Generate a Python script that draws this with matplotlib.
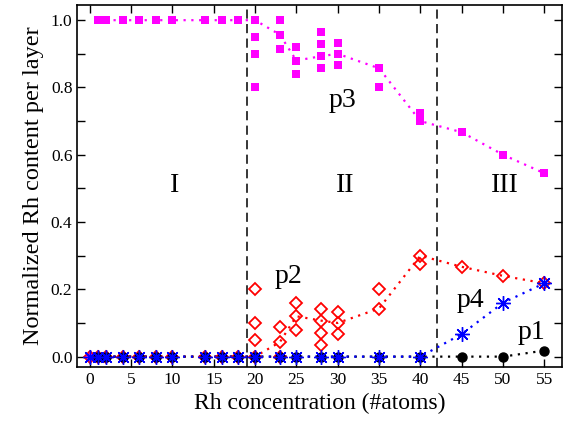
import matplotlib
matplotlib.use("Agg")
import matplotlib.pyplot as plt
from matplotlib.ticker import MultipleLocator

# Rh concentration (number of atoms)
x_atoms = [0, 1, 2, 4, 6, 8, 10, 14, 16, 18, 20, 23, 25, 28, 30, 35, 40, 45, 50, 55]

# per-layer values at each concentration (several structures per x)
p3_layers = [[0.0], [1.0], [1.0], [1.0], [1.0], [1.0], [1.0], [1.0], [1.0], [1.0],
             [1.0, 0.95, 0.9, 0.8], [1.0, 0.957, 0.913], [0.92, 0.88, 0.84],
             [0.964, 0.929, 0.893, 0.857], [0.933, 0.9, 0.867], [0.857, 0.8],
             [0.725, 0.7], [0.667], [0.6], [0.545]]
p2_layers = [[0.0], [0.0], [0.0], [0.0], [0.0], [0.0], [0.0], [0.0], [0.0], [0.0],
             [0.0, 0.05, 0.1, 0.2], [0.0, 0.043, 0.087], [0.08, 0.12, 0.16],
             [0.036, 0.071, 0.107, 0.143], [0.067, 0.1, 0.133], [0.143, 0.2],
             [0.275, 0.3], [0.267], [0.24], [0.218]]
p4_values = [0, 0, 0, 0, 0, 0, 0, 0, 0, 0, 0, 0, 0, 0, 0, 0, 0, 0.067, 0.16, 0.218]
p1_values = [None, 0, 0, 0, 0, 0, 0, 0, 0, 0, 0, 0, 0, 0, 0, 0, 0, 0, 0, 0.018]

# dotted guide lines (lowest-energy path)
line_x = [1, 2, 4, 6, 8, 10, 14, 16, 18, 20, 23, 25, 28, 30, 35, 40, 45, 50, 55]
p3_line = [1.0, 1.0, 1.0, 1.0, 1.0, 1.0, 1.0, 1.0, 1.0, 1.0, 0.957, 0.88, 0.893, 0.9, 0.857, 0.7, 0.667, 0.6, 0.545]
p2_line = [0, 0, 0, 0, 0, 0, 0, 0, 0, 0, 0.043, 0.12, 0.107, 0.1, 0.143, 0.3, 0.267, 0.24, 0.218]

region_bounds = [19, 42]
region_labels = ["I", "II", "III"]
region_label_x = [10.3, 30.9, 50.2]
series_labels = {"p3": (30.6, 0.76), "p2": (24.0, 0.237), "p4": (46.0, 0.168), "p1": (53.5, 0.073)}

plt.rcParams['font.family'] = ['Liberation Serif', 'DejaVu Serif']

fig = plt.figure(figsize=(5.67, 4.24), dpi=100)
ax = fig.add_axes([0.1363, 0.1351, 0.8544, 0.8538])

dots = (0, (1, 2.5))


def flatten(layers):
    xs, ys = [], []
    for x, vals in zip(x_atoms, layers):
        for v in vals:
            xs.append(x)
            ys.append(v)
    return xs, ys


# p3
ax.plot(line_x, p3_line, linestyle=dots, color='#ff00ff', lw=1.6, zorder=2)
xs, ys = flatten(p3_layers)
ax.plot(xs, ys, 's', color='#ff00ff', ms=6, mew=0, ls='none', zorder=3)

# p2
ax.plot(line_x, p2_line, linestyle=dots, color='#ff0000', lw=1.6, zorder=2)
xs, ys = flatten(p2_layers)
ax.plot(xs, ys, 'D', mfc='none', mec='#ff0000', ms=6.5, mew=1.3, ls='none', zorder=4)

# p1
p1_x = [x for x, v in zip(x_atoms, p1_values) if v is not None]
p1_y = [v for v in p1_values if v is not None]
ax.plot(p1_x, p1_y, linestyle=dots, color='black', lw=1.6, zorder=2)
ax.plot(p1_x, p1_y, 'o', color='black', ms=6.5, ls='none', zorder=5)

# p4
ax.plot(x_atoms, p4_values, linestyle=dots, color='#0000ff', lw=1.6, zorder=2.5)
ax.plot(x_atoms, p4_values, marker=(8, 2, 0), color='#0000ff', mec='#0000ff', ms=10.5, mew=1.0,
        ls='none', zorder=6)

for b in region_bounds:
    ax.axvline(b, color='black', lw=1.1, linestyle=(0, (6, 3.5)), zorder=1)

for lab, lx in zip(region_labels, region_label_x):
    ax.text(lx, 0.51, lab, fontsize=20, ha='center', va='center')
for lab, (lx, ly) in series_labels.items():
    ax.text(lx, ly, lab, fontsize=20, ha='center', va='center')

ax.set_xlim(-1.5, 57.1)
ax.set_ylim(-0.03, 1.046)
ax.xaxis.set_major_locator(MultipleLocator(5))
ax.yaxis.set_major_locator(MultipleLocator(0.2))
ax.yaxis.set_minor_locator(MultipleLocator(0.1))
ax.yaxis.set_major_formatter(plt.FuncFormatter(lambda v, p: "%.1f" % v))
ax.tick_params(which='both', direction='in', top=True, right=True, width=1.0, labelsize=12.5)
ax.tick_params(which='major', length=6)
ax.tick_params(which='minor', length=6)
for s in ax.spines.values():
    s.set_linewidth(1.2)

ax.set_xlabel('Rh concentration (#atoms)', fontsize=17, labelpad=4)
ax.set_ylabel('Normalized Rh content per layer', fontsize=17.5, labelpad=5)

fig.savefig('out.png', dpi=100)
